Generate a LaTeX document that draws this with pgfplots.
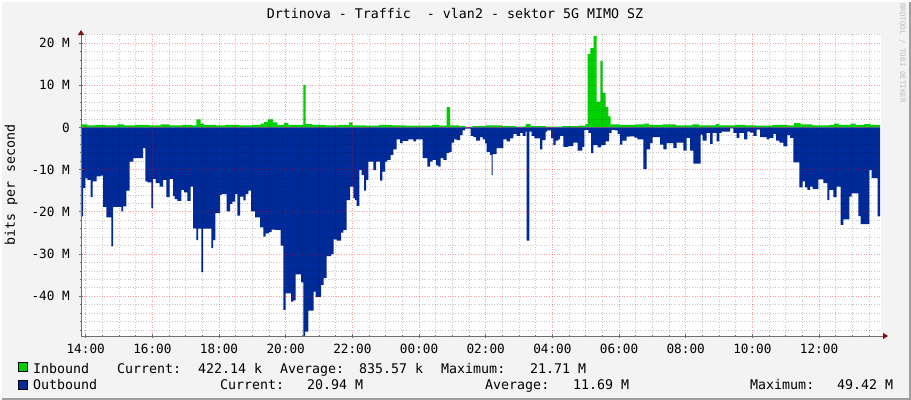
\documentclass[border=0pt]{standalone}
\usepackage{fontspec}
\setmainfont{DejaVu Sans Mono}
\setmonofont{DejaVu Sans Mono}
\usepackage{pgfplots}
\pgfplotsset{compat=1.18}
\usepackage{pgfplotstable}
\usetikzlibrary{arrows.meta}

\definecolor{canvas}{HTML}{F3F3F3}
\definecolor{inb}{HTML}{00CF00}
\definecolor{outb}{HTML}{002A97}
\definecolor{arrowred}{HTML}{7F1010}
\definecolor{axisgray}{HTML}{6E6E6E}
\definecolor{framegray}{HTML}{9E9E9E}

% hours after 14:00, Mbit/s
\pgfplotstableread{
h v
-0.141 0.7
0.05 0.5
0.30 0.6
0.60 0.5
0.95 0.7
1.15 0.5
1.50 0.6
1.90 0.5
2.25 0.7
2.50 0.5
2.90 0.6
3.20 0.5
3.32 1.9
3.45 0.9
3.55 0.6
3.90 0.5
4.20 0.6
4.60 0.5
5.00 0.6
5.25 0.9
5.35 1.3
5.47 1.9
5.62 1.2
5.75 0.6
5.95 1.0
6.08 0.6
6.30 0.6
6.53 10.1
6.60 0.8
6.80 0.6
7.20 0.5
7.60 0.6
7.90 1.2
8.00 0.5
8.40 0.4
8.80 0.6
9.20 0.5
9.60 0.4
10.00 0.4
10.40 0.6
10.60 0.4
10.83 4.8
10.93 0.5
11.20 0.3
11.40 0.1
11.60 0.3
12.00 0.5
12.50 0.3
12.90 0.2
13.20 0.8
13.35 0.3
13.80 0.2
14.30 0.3
14.80 0.4
15.00 0.8
15.06 17.4
15.14 18.8
15.24 21.7
15.33 6.1
15.44 15.8
15.51 8.2
15.60 4.9
15.68 2.6
15.75 0.7
16.00 0.6
16.50 0.7
16.75 0.9
16.90 0.6
17.30 0.7
17.70 0.5
18.20 0.7
18.40 0.5
18.90 0.8
19.00 0.5
19.50 0.6
19.80 0.5
20.10 0.4
20.60 0.6
21.05 0.5
21.25 1.0
21.45 0.7
21.80 0.5
22.30 0.6
22.45 0.9
22.60 0.6
22.95 0.9
23.10 0.6
23.35 0.8
23.55 0.6
23.83 0.6
}\inbound

\pgfplotstableread{
h v
-0.141 -21.1
-0.08 -14.4
-0.01 -12.0
0.05 -12.4
0.15 -16.5
0.21 -12.8
0.33 -11.6
0.45 -11.4
0.52 -18.8
0.62 -21.3
0.77 -28.2
0.82 -18.8
1.07 -19.9
1.12 -18.7
1.22 -15.0
1.32 -8.1
1.43 -7.3
1.72 -4.9
1.79 -12.8
1.85 -13.0
1.97 -19.1
2.02 -12.2
2.10 -13.2
2.22 -14.0
2.32 -12.4
2.42 -16.5
2.52 -12.2
2.62 -16.2
2.67 -17.0
2.75 -17.4
2.87 -14.8
2.95 -15.4
3.05 -17.4
3.15 -14.0
3.22 -23.9
3.32 -26.7
3.37 -24.0
3.47 -34.3
3.52 -24.0
3.77 -28.6
3.82 -26.7
3.89 -20.3
4.03 -16.0
4.08 -15.8
4.23 -19.9
4.33 -18.1
4.40 -17.6
4.48 -15.8
4.55 -20.9
4.63 -16.4
4.73 -17.3
4.80 -15.8
4.88 -15.0
4.96 -19.9
5.08 -21.3
5.23 -23.7
5.33 -25.9
5.40 -25.1
5.50 -24.8
5.58 -24.2
5.68 -24.3
5.85 -28.0
5.93 -43.2
6.00 -39.3
6.16 -41.3
6.23 -41.0
6.30 -34.8
6.46 -36.7
6.53 -49.4
6.58 -48.4
6.68 -43.4
6.84 -38.9
6.90 -40.2
7.06 -37.3
7.14 -35.7
7.23 -30.5
7.36 -30.0
7.44 -26.5
7.53 -26.8
7.66 -24.9
7.73 -24.3
7.83 -17.2
7.93 -14.0
8.03 -16.8
8.08 -17.2
8.13 -18.6
8.21 -10.1
8.28 -11.3
8.35 -15.0
8.41 -12.4
8.48 -8.1
8.63 -10.1
8.71 -8.1
8.83 -12.6
8.90 -10.5
8.98 -8.1
9.05 -7.7
9.15 -6.5
9.23 -5.2
9.33 -2.8
9.43 -3.7
9.51 -3.2
9.68 -2.8
9.83 -3.3
9.91 -2.8
10.11 -7.3
10.25 -9.3
10.33 -8.1
10.41 -7.7
10.51 -9.0
10.58 -9.3
10.65 -7.3
10.73 -7.7
10.83 -6.1
10.91 -5.8
10.98 -3.6
11.05 -2.8
11.13 -3.0
11.23 -1.8
11.31 -0.7
11.38 -0.3
11.55 -2.0
11.63 -2.3
11.71 -3.1
11.83 -2.3
11.91 -2.8
11.98 -3.7
12.03 -5.8
12.13 -6.5
12.18 -11.3
12.21 -6.3
12.33 -4.9
12.53 -2.8
12.63 -3.3
12.73 -2.6
12.83 -1.5
12.93 -2.0
13.03 -1.3
13.11 -2.0
13.20 -1.0
13.23 -26.8
13.31 -1.0
13.38 -2.0
13.46 -2.6
13.63 -5.2
13.70 -3.0
13.80 -1.0
13.84 -0.7
13.96 -2.6
14.03 -4.2
14.10 -3.1
14.18 -2.8
14.23 -2.0
14.33 -4.6
14.48 -4.4
14.63 -3.6
14.76 -5.5
14.90 -4.6
14.96 -0.6
15.08 -1.3
15.16 -6.1
15.23 -4.2
15.36 -4.7
15.46 -4.2
15.60 -3.3
15.70 -1.3
15.78 -0.6
15.88 -0.7
15.96 -1.5
16.03 -4.1
16.10 -3.1
16.23 -2.2
16.33 -2.1
16.46 -2.4
16.55 -2.8
16.73 -9.9
16.83 -5.2
16.93 -3.7
17.01 -2.3
17.23 -4.1
17.33 -5.2
17.43 -3.7
17.63 -4.9
17.73 -3.6
17.93 -5.5
18.03 -2.5
18.13 -5.5
18.23 -8.6
18.45 -1.7
18.51 -3.1
18.63 -1.3
18.73 -3.9
18.81 -1.3
18.93 -3.3
19.01 -1.3
19.08 -1.0
19.33 -0.2
19.43 -1.3
19.53 -2.5
19.61 -1.3
19.75 -2.8
19.85 -1.0
19.93 -1.2
20.03 -2.0
20.13 -0.5
20.23 -2.3
20.43 -2.8
20.51 -2.5
20.63 -1.5
20.71 -3.1
20.81 -3.6
20.93 -4.5
21.05 -1.8
21.13 -2.5
21.23 -8.3
21.41 -14.2
21.51 -12.8
21.58 -14.2
21.65 -14.8
21.73 -14.0
21.81 -14.6
21.98 -12.3
22.13 -13.2
22.25 -17.2
22.31 -14.8
22.43 -16.5
22.53 -14.0
22.65 -23.1
22.73 -21.8
22.91 -16.4
22.98 -15.6
23.18 -21.0
23.25 -22.9
23.51 -10.1
23.58 -12.0
23.76 -21.1
23.83 -21.1
}\outbound

\begin{document}
\begin{tikzpicture}[font=\fontsize{13.3bp}{16bp}\selectfont]
\fill[canvas] (-81bp,-64bp) rectangle (830bp,336bp);
\path[use as bounding box] (-81bp,-64bp) rectangle (830bp,336bp);
\draw[framegray, line width=2bp] (-81bp,-63bp) -- (829bp,-63bp) -- (829bp,336bp);
\draw[white, line width=2bp] (-80bp,-64bp) -- (-80bp,335bp) -- (830bp,335bp);

\begin{axis}[
    at={(0bp,0bp)}, anchor=south west,
    scale only axis, width=800bp, height=302bp,
    xmin=-0.141, xmax=23.859,
    ymin=-49.42, ymax=22.14,
    axis background/.style={fill=white},
    axis on top,
    axis lines=left,
    axis line style={draw=axisgray, line width=0.8bp},
    x axis line style={-{Triangle[length=5bp,width=6bp,color=arrowred]}, shorten >=-7bp},
    y axis line style={-{Triangle[length=5bp,width=6bp,color=arrowred]}, shorten >=-4bp},
    xtick={0,2,...,22},
    xticklabels={14:00,16:00,18:00,20:00,22:00,00:00,02:00,04:00,06:00,08:00,10:00,12:00},
    minor xtick={0.5,1,1.5,2.5,3,3.5,4.5,5,5.5,6.5,7,7.5,8.5,9,9.5,10.5,11,11.5,12.5,13,13.5,14.5,15,15.5,16.5,17,17.5,18.5,19,19.5,20.5,21,21.5,22.5,23,23.5},
    ytick={-40,-30,...,20},
    yticklabels={-40 M,-30 M,-20 M,-10 M,0,10 M,20 M},
    minor ytick={-48,-46,-44,-42,-38,-36,-34,-32,-28,-26,-24,-22,-18,-16,-14,-12,-8,-6,-4,-2,2,4,6,8,12,14,16,18,22},
    grid=both,
    major grid style={draw=red, opacity=0.38, dash pattern=on 1bp off 1.6bp, line width=0.8bp},
    minor grid style={draw=black, opacity=0.22, dash pattern=on 1bp off 1.6bp, line width=0.8bp},
    tick style={draw=axisgray, line width=0.8bp},
    major tick length=4bp, minor tick length=2bp, tick align=center,
    xticklabel style={anchor=base, inner sep=0pt, yshift=-15bp, font=\fontsize{12.7bp}{15bp}\selectfont},
    yticklabel style={anchor=east, inner sep=0pt, xshift=-9bp, font=\fontsize{12.7bp}{15bp}\selectfont},
]
\addplot[const plot, fill=inb, draw=none] table[x=h, y=v] {\inbound} \closedcycle;
\addplot[const plot, fill=outb, draw=none] table[x=h, y=v] {\outbound} \closedcycle;
\end{axis}

\node[anchor=base] at (374bp,317bp) {Drtinova - Traffic\ \ - vlan2 - sektor 5G MIMO SZ};
\node[rotate=90, anchor=base] at (-66bp,151bp) {bits per second};
\node[rotate=-90, anchor=base, font=\fontsize{7.5bp}{9bp}\selectfont, text=gray!50] at (819bp,283bp) {RRDTOOL / TOBI OETIKER};

\fill[inb, draw=black, line width=0.6bp] (-63bp,-26bp) rectangle (-54bp,-35bp);
\fill[outb, draw=black, line width=0.6bp] (-63bp,-44bp) rectangle (-54bp,-53bp);
\begin{scope}[every node/.style={anchor=base west, inner sep=0pt}]
\node at (-48bp,-37bp) {Inbound};
\node at (36bp,-37bp) {Current:};
\node at (117bp,-37bp) {422.14 k};
\node at (199bp,-37bp) {Average:};
\node at (278bp,-37bp) {835.57 k};
\node at (360bp,-37bp) {Maximum:};
\node at (449bp,-37bp) {21.71 M};
\node at (-48bp,-53bp) {Outbound};
\node at (139bp,-53bp) {Current:};
\node at (226bp,-53bp) {20.94 M};
\node at (404bp,-53bp) {Average:};
\node at (492bp,-53bp) {11.69 M};
\node at (669bp,-53bp) {Maximum:};
\node at (756bp,-53bp) {49.42 M};
\end{scope}
\end{tikzpicture}
\end{document}
